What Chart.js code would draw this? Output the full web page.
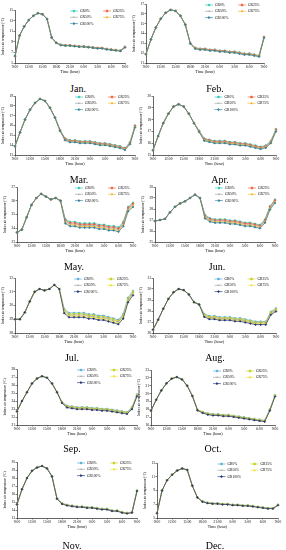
<!DOCTYPE html>
<html>
<head>
<meta charset="utf-8">
<script src="https://cdn.jsdelivr.net/npm/chart.js@4.4.0/dist/chart.umd.min.js"></script>
<style>
  body { margin: 0; background: #fff; width: 286px; height: 550px; position: relative; overflow: hidden; }
  canvas { position: absolute; }
  .month { position: absolute; font-family: "Liberation Serif", serif; font-size: 10px; color: #000; transform: translate(-50%, -50%); white-space: nowrap; }
</style>
</head>
<body>
<script>
// hourly categories, 9:00 to 9:00 next day
const hours = ['9:00','10:00','11:00','12:00','13:00','14:00','15:00','16:00','17:00','18:00','19:00','20:00','21:00',
  '22:00','23:00','0:00','1:00','2:00','3:00','4:00','5:00','6:00','7:00','8:00','9:00'];
const seriesNames = ['GR0%', 'GR25%', 'GR50%', 'GR75%', 'GR100%'];

// y axis [min, max, step]
const janY = [5, 15, 1];
const febY = [11, 17, 1];
const marY = [13, 19, 1];
const aprY = [15, 20, 1];
const mayY = [23, 27, 1];
const junY = [25, 30, 1];
const julY = [28, 32, 1];
const augY = [26, 31, 1];
const sepY = [21, 28, 1];
const octY = [16, 23, 1];
const novY = [13, 20, 1];
const decY = [5, 13, 1];

const janGR0   = [6.3,10.2,11.9,13.1,13.9,14.4,14.2,13.3,9.8,8.83,8.46,8.36,8.36,8.26,8.16,8.16,8.06,7.96,7.86,7.86,7.66,7.56,7.46,7.36,8.06];
const janGR25  = [6.3,10.2,11.9,13.1,13.9,14.4,14.2,13.3,9.8,8.82,8.43,8.33,8.33,8.23,8.13,8.13,8.03,7.93,7.83,7.83,7.63,7.53,7.43,7.33,8.03];
const janGR50  = [6.3,10.2,11.9,13.1,13.9,14.4,14.2,13.3,9.8,8.8,8.4,8.3,8.3,8.2,8.1,8.1,8.0,7.9,7.8,7.8,7.6,7.5,7.4,7.3,8.0];
const janGR75  = [6.3,10.2,11.9,13.1,13.9,14.4,14.2,13.3,9.8,8.78,8.37,8.27,8.27,8.17,8.07,8.07,7.97,7.87,7.77,7.77,7.57,7.47,7.37,7.27,7.97];
const janGR100 = [6.3,10.2,11.9,13.1,13.9,14.4,14.2,13.3,9.8,8.77,8.34,8.24,8.24,8.14,8.04,8.04,7.94,7.84,7.74,7.74,7.54,7.44,7.34,7.24,7.94];

const febGR0   = [11.9,13.4,14.6,15.5,16.1,16.4,16.3,15.8,14.9,13.03,12.56,12.46,12.46,12.36,12.36,12.26,12.26,12.16,12.16,12.06,11.96,11.96,11.86,11.76,13.66];
const febGR25  = [11.9,13.4,14.6,15.5,16.1,16.4,16.3,15.8,14.9,13.02,12.53,12.43,12.43,12.33,12.33,12.23,12.23,12.13,12.13,12.03,11.93,11.93,11.83,11.73,13.63];
const febGR50  = [11.9,13.4,14.6,15.5,16.1,16.4,16.3,15.8,14.9,13.0,12.5,12.4,12.4,12.3,12.3,12.2,12.2,12.1,12.1,12.0,11.9,11.9,11.8,11.7,13.6];
const febGR75  = [11.9,13.4,14.6,15.5,16.1,16.4,16.3,15.8,14.9,12.98,12.47,12.37,12.37,12.27,12.27,12.17,12.17,12.07,12.07,11.97,11.87,11.87,11.77,11.67,13.57];
const febGR100 = [11.9,13.4,14.6,15.5,16.1,16.4,16.3,15.8,14.9,12.97,12.44,12.34,12.34,12.24,12.24,12.14,12.14,12.04,12.04,11.94,11.84,11.84,11.74,11.64,13.54];

const marGR0   = [13.9,15.3,16.6,17.6,18.3,18.7,18.5,17.8,16.8,15.55,14.7,14.5,14.5,14.4,14.4,14.4,14.3,14.2,14.2,14.1,14.0,13.9,13.7,14.3,16.0];
const marGR25  = [13.9,15.3,16.6,17.6,18.3,18.7,18.5,17.8,16.8,15.53,14.65,14.45,14.45,14.35,14.35,14.35,14.25,14.15,14.15,14.05,13.95,13.85,13.65,14.25,15.95];
const marGR50  = [13.9,15.3,16.6,17.6,18.3,18.7,18.5,17.8,16.8,15.5,14.6,14.4,14.4,14.3,14.3,14.3,14.2,14.1,14.1,14.0,13.9,13.8,13.6,14.2,15.9];
const marGR75  = [13.9,15.3,16.6,17.6,18.3,18.7,18.5,17.8,16.8,15.47,14.55,14.35,14.35,14.25,14.25,14.25,14.15,14.05,14.05,13.95,13.85,13.75,13.55,14.15,15.85];
const marGR100 = [13.9,15.3,16.6,17.6,18.3,18.7,18.5,17.8,16.8,15.45,14.5,14.3,14.3,14.2,14.2,14.2,14.1,14.0,14.0,13.9,13.8,13.7,13.5,14.1,15.8];

const aprGR0   = [15.4,16.6,17.7,18.5,19.1,19.3,19.1,18.5,17.7,17.05,16.4,16.3,16.2,16.2,16.2,16.1,16.1,16.0,16.0,15.9,15.8,15.7,15.8,16.2,17.2];
const aprGR25  = [15.4,16.6,17.7,18.5,19.1,19.3,19.1,18.5,17.7,17.03,16.35,16.25,16.15,16.15,16.15,16.05,16.05,15.95,15.95,15.85,15.75,15.65,15.75,16.15,17.15];
const aprGR50  = [15.4,16.6,17.7,18.5,19.1,19.3,19.1,18.5,17.7,17.0,16.3,16.2,16.1,16.1,16.1,16.0,16.0,15.9,15.9,15.8,15.7,15.6,15.7,16.1,17.1];
const aprGR75  = [15.4,16.6,17.7,18.5,19.1,19.3,19.1,18.5,17.7,16.97,16.25,16.15,16.05,16.05,16.05,15.95,15.95,15.85,15.85,15.75,15.65,15.55,15.65,16.05,17.05];
const aprGR100 = [15.4,16.6,17.7,18.5,19.1,19.3,19.1,18.5,17.7,16.95,16.2,16.1,16.0,16.0,16.0,15.9,15.9,15.8,15.8,15.7,15.6,15.5,15.6,16.0,17.0];

const mayGR0   = [23.7,23.9,24.8,25.7,26.2,26.5,26.3,26.1,26.2,26.0,24.66,24.46,24.46,24.36,24.36,24.36,24.36,24.26,24.26,24.16,24.16,24.06,24.46,25.56,25.86];
const mayGR25  = [23.7,23.9,24.8,25.7,26.2,26.5,26.3,26.1,26.2,26.0,24.58,24.38,24.38,24.28,24.28,24.28,24.28,24.18,24.18,24.08,24.08,23.98,24.38,25.48,25.78];
const mayGR50  = [23.7,23.9,24.8,25.7,26.2,26.5,26.3,26.1,26.2,26.0,24.5,24.3,24.3,24.2,24.2,24.2,24.2,24.1,24.1,24.0,24.0,23.9,24.3,25.4,25.7];
const mayGR75  = [23.7,23.9,24.8,25.7,26.2,26.5,26.3,26.1,26.2,26.0,24.42,24.22,24.22,24.12,24.12,24.12,24.12,24.02,24.02,23.92,23.92,23.82,24.22,25.32,25.62];
const mayGR100 = [23.7,23.9,24.8,25.7,26.2,26.5,26.3,26.1,26.2,26.0,24.34,24.14,24.14,24.04,24.04,24.04,24.04,23.94,23.94,23.84,23.84,23.74,24.14,25.24,25.54];

const junGR0   = [26.9,27.0,27.1,27.7,28.2,28.5,28.7,29.0,29.3,29.0,27.46,27.16,27.06,27.06,27.06,26.96,26.96,26.86,26.76,26.76,26.66,26.56,27.06,28.26,28.86];
const junGR25  = [26.9,27.0,27.1,27.7,28.2,28.5,28.7,29.0,29.3,29.0,27.38,27.08,26.98,26.98,26.98,26.88,26.88,26.78,26.68,26.68,26.58,26.48,26.98,28.18,28.78];
const junGR50  = [26.9,27.0,27.1,27.7,28.2,28.5,28.7,29.0,29.3,29.0,27.3,27.0,26.9,26.9,26.9,26.8,26.8,26.7,26.6,26.6,26.5,26.4,26.9,28.1,28.7];
const junGR75  = [26.9,27.0,27.1,27.7,28.2,28.5,28.7,29.0,29.3,29.0,27.22,26.92,26.82,26.82,26.82,26.72,26.72,26.62,26.52,26.52,26.42,26.32,26.82,28.02,28.62];
const junGR100 = [26.9,27.0,27.1,27.7,28.2,28.5,28.7,29.0,29.3,29.0,27.14,26.84,26.74,26.74,26.74,26.64,26.64,26.54,26.44,26.44,26.34,26.24,26.74,27.94,28.54];

const julGR0   = [29.0,29.0,29.5,30.3,31.0,31.2,31.1,31.2,31.5,31.2,29.76,29.46,29.46,29.46,29.46,29.36,29.36,29.26,29.26,29.16,29.06,28.96,29.36,30.56,31.06];
const julGR25  = [29.0,29.0,29.5,30.3,31.0,31.2,31.1,31.2,31.5,31.2,29.68,29.38,29.38,29.38,29.38,29.28,29.28,29.18,29.18,29.08,28.98,28.88,29.28,30.48,30.98];
const julGR50  = [29.0,29.0,29.5,30.3,31.0,31.2,31.1,31.2,31.5,31.2,29.6,29.3,29.3,29.3,29.3,29.2,29.2,29.1,29.1,29.0,28.9,28.8,29.2,30.4,30.9];
const julGR75  = [29.0,29.0,29.5,30.3,31.0,31.2,31.1,31.2,31.5,31.2,29.52,29.22,29.22,29.22,29.22,29.12,29.12,29.02,29.02,28.92,28.82,28.72,29.12,30.32,30.82];
const julGR100 = [29.0,29.0,29.5,30.3,31.0,31.2,31.1,31.2,31.5,31.2,29.44,29.14,29.14,29.14,29.14,29.04,29.04,28.94,28.94,28.84,28.74,28.64,29.04,30.24,30.74];

const augGR0   = [26.3,27.2,28.2,29.1,29.7,30.0,29.9,29.5,28.8,28.6,27.74,27.54,27.54,27.44,27.44,27.44,27.34,27.34,27.24,27.14,27.04,27.04,27.04,27.94,28.24];
const augGR25  = [26.3,27.2,28.2,29.1,29.7,30.0,29.9,29.5,28.8,28.6,27.67,27.47,27.47,27.37,27.37,27.37,27.27,27.27,27.17,27.07,26.97,26.97,26.97,27.87,28.17];
const augGR50  = [26.3,27.2,28.2,29.1,29.7,30.0,29.9,29.5,28.8,28.6,27.6,27.4,27.4,27.3,27.3,27.3,27.2,27.2,27.1,27.0,26.9,26.9,26.9,27.8,28.1];
const augGR75  = [26.3,27.2,28.2,29.1,29.7,30.0,29.9,29.5,28.8,28.6,27.53,27.33,27.33,27.23,27.23,27.23,27.13,27.13,27.03,26.93,26.83,26.83,26.83,27.73,28.03];
const augGR100 = [26.3,27.2,28.2,29.1,29.7,30.0,29.9,29.5,28.8,28.6,27.46,27.26,27.26,27.16,27.16,27.16,27.06,27.06,26.96,26.86,26.76,26.76,26.76,27.66,27.96];

const sepGR0   = [22.7,24.0,25.1,26.2,26.8,27.1,26.9,26.2,25.1,23.86,23.42,23.32,23.22,23.22,23.22,23.12,23.12,23.02,23.02,22.92,22.82,22.72,22.62,23.22,24.82];
const sepGR25  = [22.7,24.0,25.1,26.2,26.8,27.1,26.9,26.2,25.1,23.83,23.36,23.26,23.16,23.16,23.16,23.06,23.06,22.96,22.96,22.86,22.76,22.66,22.56,23.16,24.76];
const sepGR50  = [22.7,24.0,25.1,26.2,26.8,27.1,26.9,26.2,25.1,23.8,23.3,23.2,23.1,23.1,23.1,23.0,23.0,22.9,22.9,22.8,22.7,22.6,22.5,23.1,24.7];
const sepGR75  = [22.7,24.0,25.1,26.2,26.8,27.1,26.9,26.2,25.1,23.77,23.24,23.14,23.04,23.04,23.04,22.94,22.94,22.84,22.84,22.74,22.64,22.54,22.44,23.04,24.64];
const sepGR100 = [22.7,24.0,25.1,26.2,26.8,27.1,26.9,26.2,25.1,23.74,23.18,23.08,22.98,22.98,22.98,22.88,22.88,22.78,22.78,22.68,22.58,22.48,22.38,22.98,24.58];

const octGR0   = [17.8,19.2,20.4,21.3,21.9,22.1,21.8,21.0,19.7,17.94,17.68,17.48,17.38,17.38,17.28,17.28,17.18,17.08,16.98,16.88,16.78,16.68,16.58,17.98,19.78];
const octGR25  = [17.8,19.2,20.4,21.3,21.9,22.1,21.8,21.0,19.7,17.92,17.64,17.44,17.34,17.34,17.24,17.24,17.14,17.04,16.94,16.84,16.74,16.64,16.54,17.94,19.74];
const octGR50  = [17.8,19.2,20.4,21.3,21.9,22.1,21.8,21.0,19.7,17.9,17.6,17.4,17.3,17.3,17.2,17.2,17.1,17.0,16.9,16.8,16.7,16.6,16.5,17.9,19.7];
const octGR75  = [17.8,19.2,20.4,21.3,21.9,22.1,21.8,21.0,19.7,17.88,17.56,17.36,17.26,17.26,17.16,17.16,17.06,16.96,16.86,16.76,16.66,16.56,16.46,17.86,19.66];
const octGR100 = [17.8,19.2,20.4,21.3,21.9,22.1,21.8,21.0,19.7,17.86,17.52,17.32,17.22,17.22,17.12,17.12,17.02,16.92,16.82,16.72,16.62,16.52,16.42,17.82,19.62];

const novGR0   = [14.7,16.6,18.0,18.9,19.3,19.5,19.2,18.2,15.4,14.84,14.64,14.54,14.44,14.44,14.34,14.34,14.24,14.14,14.14,13.94,13.94,13.74,13.64,13.74,16.44];
const novGR25  = [14.7,16.6,18.0,18.9,19.3,19.5,19.2,18.2,15.4,14.82,14.62,14.52,14.42,14.42,14.32,14.32,14.22,14.12,14.12,13.92,13.92,13.72,13.62,13.72,16.42];
const novGR50  = [14.7,16.6,18.0,18.9,19.3,19.5,19.2,18.2,15.4,14.8,14.6,14.5,14.4,14.4,14.3,14.3,14.2,14.1,14.1,13.9,13.9,13.7,13.6,13.7,16.4];
const novGR75  = [14.7,16.6,18.0,18.9,19.3,19.5,19.2,18.2,15.4,14.78,14.58,14.48,14.38,14.38,14.28,14.28,14.18,14.08,14.08,13.88,13.88,13.68,13.58,13.68,16.38];
const novGR100 = [14.7,16.6,18.0,18.9,19.3,19.5,19.2,18.2,15.4,14.76,14.56,14.46,14.36,14.36,14.26,14.26,14.16,14.06,14.06,13.86,13.86,13.66,13.56,13.66,16.36];

const decGR0   = [5.7,9.0,10.5,11.3,11.9,12.2,12.0,9.7,8.0,7.44,7.24,7.14,7.14,7.04,7.04,6.94,6.94,6.84,6.84,6.74,6.64,6.54,6.44,6.44,6.94];
const decGR25  = [5.7,9.0,10.5,11.3,11.9,12.2,12.0,9.7,8.0,7.42,7.22,7.12,7.12,7.02,7.02,6.92,6.92,6.82,6.82,6.72,6.62,6.52,6.42,6.42,6.92];
const decGR50  = [5.7,9.0,10.5,11.3,11.9,12.2,12.0,9.7,8.0,7.4,7.2,7.1,7.1,7.0,7.0,6.9,6.9,6.8,6.8,6.7,6.6,6.5,6.4,6.4,6.9];
const decGR75  = [5.7,9.0,10.5,11.3,11.9,12.2,12.0,9.7,8.0,7.38,7.18,7.08,7.08,6.98,6.98,6.88,6.88,6.78,6.78,6.68,6.58,6.48,6.38,6.38,6.88];
const decGR100 = [5.7,9.0,10.5,11.3,11.9,12.2,12.0,9.7,8.0,7.36,7.16,7.06,7.06,6.96,6.96,6.86,6.86,6.76,6.76,6.66,6.56,6.46,6.36,6.36,6.86];

// styling
const SERIF = '"Liberation Serif", "DejaVu Serif", serif';
const palettes = [
  ['#22c3b4', '#ef5f3c', '#9b9b9b', '#f5b325', '#2a7d9c'],
  ['#45a6d8', '#c8cf1a', '#9b9b9b', '#ece02a', '#1f2f77']
];
const markers = ['rect', 'circle', 'crossRot', 'triangle', 'rectRot'];

// plot boxes in page pixels: [left, top, right, bottom], month label centre
const panels = [
  { name: 'Jan.', y: janY, data: [janGR0, janGR25, janGR50, janGR75, janGR100], box: [15, 10, 125, 63], lab: [78, 88], pal: 0 },
  { name: 'Feb.', y: febY, data: [febGR0, febGR25, febGR50, febGR75, febGR100], box: [146, 4, 264, 63], lab: [215, 88], pal: 0 },
  { name: 'Mar.', y: marY, data: [marGR0, marGR25, marGR50, marGR75, marGR100], box: [15, 96, 135, 155], lab: [79, 179], pal: 0 },
  { name: 'Apr.', y: aprY, data: [aprGR0, aprGR25, aprGR50, aprGR75, aprGR100], box: [153, 96, 276, 155], lab: [220, 179], pal: 0 },
  { name: 'May.', y: mayY, data: [mayGR0, mayGR25, mayGR50, mayGR75, mayGR100], box: [17, 187, 133, 242], lab: [74, 266], pal: 0 },
  { name: 'Jun.', y: junY, data: [junGR0, junGR25, junGR50, junGR75, junGR100], box: [155, 187, 275, 242], lab: [217, 266], pal: 0 },
  { name: 'Jul.', y: julY, data: [julGR0, julGR25, julGR50, julGR75, julGR100], box: [15, 278, 133, 333], lab: [72, 357], pal: 1 },
  { name: 'Aug.', y: augY, data: [augGR0, augGR25, augGR50, augGR75, augGR100], box: [153, 278, 276, 333], lab: [215, 357], pal: 1 },
  { name: 'Sep.', y: sepY, data: [sepGR0, sepGR25, sepGR50, sepGR75, sepGR100], box: [17, 369, 137, 425], lab: [72, 448], pal: 1 },
  { name: 'Oct.', y: octY, data: [octGR0, octGR25, octGR50, octGR75, octGR100], box: [151, 370, 275, 425], lab: [213, 448], pal: 1 },
  { name: 'Nov.', y: novY, data: [novGR0, novGR25, novGR50, novGR75, novGR100], box: [17, 462, 137, 518], lab: [72, 545], pal: 1 },
  { name: 'Dec.', y: decY, data: [decGR0, decGR25, decGR50, decGR75, decGR100], box: [157, 463, 278, 518], lab: [215, 545], pal: 1 }
];

// legend drawn inside the plot, upper right, two columns
const insideLegend = {
  id: 'insideLegend',
  afterDraw(chart) {
    const { ctx, chartArea: a } = chart;
    chart.data.datasets.forEach((ds, i) => {
      const col = i % 2, row = Math.floor(i / 2);
      const x = a.left + a.width * 0.5 + col * 33;
      const y = a.top + 1 + row * 6.3;
      ctx.save();
      ctx.strokeStyle = ds.borderColor;
      ctx.fillStyle = ds.borderColor;
      ctx.lineWidth = 0.6;
      ctx.beginPath(); ctx.moveTo(x, y); ctx.lineTo(x + 8, y); ctx.stroke();
      Chart.helpers.drawPoint(ctx, { pointStyle: ds.pointStyle, radius: 1.1, borderWidth: 0.5 }, x + 4, y);
      ctx.fillStyle = '#000';
      ctx.font = '3.6px ' + SERIF;
      ctx.textBaseline = 'middle';
      ctx.fillText(ds.label, x + 10, y);
      ctx.restore();
    });
  }
};

const Y_AXIS_W = 14, X_AXIS_H = 11;

panels.forEach(p => {
  const [l, t, r, b] = p.box;
  const cLeft = l - Y_AXIS_W - 1, cTop = t - 5;
  const cW = r + 9 - cLeft, cH = b + X_AXIS_H - cTop;
  const cv = document.createElement('canvas');
  cv.width = cW; cv.height = cH;
  cv.style.left = cLeft + 'px'; cv.style.top = cTop + 'px';
  cv.style.width = cW + 'px'; cv.style.height = cH + 'px';
  document.body.appendChild(cv);

  const m = document.createElement('div');
  m.className = 'month';
  m.textContent = p.name;
  m.style.left = p.lab[0] + 'px'; m.style.top = p.lab[1] + 'px';
  document.body.appendChild(m);

  const pal = palettes[p.pal];
  new Chart(cv, {
    type: 'line',
    data: {
      labels: hours,
      datasets: seriesNames.map((n, i) => ({
        label: n,
        data: p.data[i],
        borderColor: pal[i],
        backgroundColor: pal[i],
        borderWidth: 0.7,
        pointStyle: markers[i],
        pointRadius: 1,
        pointBorderWidth: 0.5,
        tension: 0,
        order: 4 - i
      }))
    },
    options: {
      responsive: false,
      animation: false,
      devicePixelRatio: 1,
      layout: { padding: { left: 1, top: 5, right: 9, bottom: 0 } },
      plugins: { legend: { display: false }, tooltip: { enabled: false } },
      scales: {
        x: {
          ticks: {
            autoSkip: false, maxRotation: 0, padding: 0.5, color: '#000',
            font: { family: SERIF, size: 3.6 },
            callback: (v, i) => (i % 3 === 0 ? hours[i] : '')
          },
          grid: {
            drawOnChartArea: false, tickLength: 1.5, lineWidth: 0.5,
            color: c => (c.index % 3 === 0 ? '#000' : 'rgba(0,0,0,0)')
          },
          border: { color: '#000', width: 0.6 },
          title: { display: true, text: 'Time (hour)', color: '#000', font: { family: SERIF, size: 4 }, padding: 0 },
          afterFit: s => { s.height = X_AXIS_H; }
        },
        y: {
          min: p.y[0], max: p.y[1],
          ticks: { stepSize: p.y[2], padding: 0.5, color: '#000', font: { family: SERIF, size: 3.6 } },
          grid: { drawOnChartArea: false, tickLength: 1.5, lineWidth: 0.5, color: '#000' },
          border: { color: '#000', width: 0.6 },
          title: { display: true, text: 'Indoor air temperature (°C)', color: '#000', font: { family: SERIF, size: 3.4 }, padding: 0 },
          afterFit: s => { s.width = Y_AXIS_W; }
        }
      }
    },
    plugins: [insideLegend]
  });
});
</script>
</body>
</html>
